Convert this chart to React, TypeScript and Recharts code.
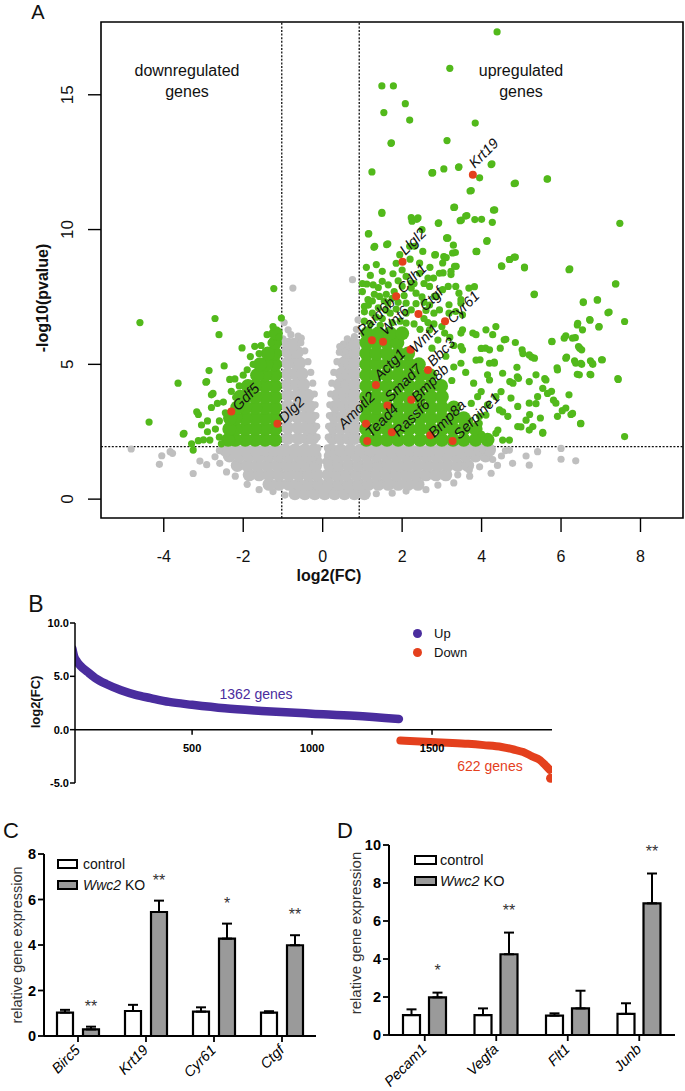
import React from "react";
import {
  ScatterChart,
  Scatter,
  XAxis,
  YAxis,
  ReferenceLine,
  ReferenceArea,
  ComposedChart,
  Line,
  BarChart,
  Bar,
  ErrorBar,
  LabelList,
} from "recharts";

const FONT = "'Liberation Sans', Arial, Helvetica, sans-serif";
const GREEN = "#52b91b";
const GREY = "#bfbfbf";
const RED = "#e4401d";
const PURPLE = "#4a2d9e";

// ---------- A: volcano plot ----------
const fcTicks = [-4, -2, 0, 2, 4, 6, 8];
const pTicks = [0, 5, 10, 15];

// dense non-significant cloud, read row by row (-log10 p, log2 FC list)
const greyDenseRows: [number, number[]][] = [
  [0.2, [-0.7, -0.45, -0.2, 0.05, 0.3, 0.55, 0.8, 1.05]],
  [0.55, [-1.35, -1.1, -0.85, -0.6, -0.35, -0.1, 0.15, 0.4, 0.65, 0.9, 1.15, 1.4, 1.65, 1.9, 2.15, 2.4]],
  [0.9, [-1.85, -1.6, -1.35, -1.1, -0.85, -0.6, -0.36, -0.14, 0.14, 0.36, 0.6, 0.85, 1.1, 1.35, 1.6, 1.85, 2.1, 2.35, 2.6, 2.85, 3.1]],
  [1.25, [-2.15, -1.9, -1.65, -1.4, -1.15, -0.9, -0.65, -0.4, -0.18, 0.18, 0.4, 0.65, 0.9, 1.15, 1.4, 1.65, 1.9, 2.15, 2.4, 2.65, 2.9, 3.15, 3.4, 3.65]],
  [1.6, [-2.35, -2.1, -1.85, -1.6, -1.35, -1.1, -0.85, -0.6, -0.38, -0.19, 0.19, 0.38, 0.6, 0.85, 1.1, 1.35, 1.6, 1.85, 2.1, 2.35, 2.6, 2.85, 3.1, 3.35, 3.6, 3.85, 4.1]],
  [1.82, [-2.45, -2.2, -1.95, -1.7, -1.45, -1.2, -0.95, -0.7, -0.45, -0.22, 0.22, 0.45, 0.7, 0.95, 1.2, 1.45, 1.7, 1.95, 2.2, 2.45, 2.7, 2.95, 3.2, 3.45, 3.7, 3.95, 4.2]],
  [2.25, [-0.88, -0.62, -0.4, -0.25, 0.25, 0.45, 0.65, 0.8]],
  [2.65, [-0.88, -0.62, -0.42, -0.27, 0.27, 0.47, 0.67, 0.8]],
  [3.05, [-0.88, -0.64, -0.44, -0.3, 0.3, 0.5, 0.68, 0.8]],
  [3.45, [-0.88, -0.64, -0.45, -0.33, 0.33, 0.52, 0.7, 0.8]],
  [3.85, [-0.88, -0.65, -0.46, -0.37, 0.37, 0.55, 0.72, 0.8]],
  [4.25, [-0.88, -0.66, -0.48, 0.42, 0.6, 0.8]],
  [4.65, [-0.88, -0.68, -0.52, 0.47, 0.63, 0.8]],
  [5.05, [-0.88, -0.7, -0.58, 0.53, 0.67, 0.8]],
  [5.45, [-0.88, -0.74, -0.64, 0.6, 0.72, 0.8]],
  [5.75, [-0.86, -0.72, 0.7, 0.8]],
];

const greyPoints: [number, number][] = [
  [-0.12, 1.9], [0.12, 1.9], [-0.14, 2.3], [0.14, 2.3], [-0.15, 2.7], [0.15, 2.7], [-0.17, 3.1], [0.17, 3.1],
  [-0.19, 3.5], [0.18, 3.5], [-0.21, 3.9], [0.2, 3.9], [-0.25, 4.3], [0.23, 4.3], [-0.3, 4.7], [0.28, 4.7],
  [-0.37, 5.1], [0.36, 5.1], [-0.45, 5.5], [0.42, 5.45], [-0.55, 5.8], [0.52, 5.75], [-0.08, 1.4], [0.08, 1.4],
  [-0.75, 7.83], [0.75, 8.14], [-0.87, 6.28], [-0.54, 5.97], [-0.62, 6.05], [0.43, 5.66], [0.8, 6.03],
  [0.89, 6.65], [-0.97, 6.55], [0.62, 5.95], [-0.8, 6.1], [0.85, 6.3], [-1.0, 5.95],
  [-4.82, 1.86], [-4.05, 1.61], [-4.11, 1.29], [-3.84, 1.76], [-3.78, 1.7], [-3.26, 0.95], [-3.09, 1.41],
  [-2.92, 1.28], [-2.71, 1.57], [-2.59, 1.33], [-2.42, 1.01], [-2.6, 1.8], [-2.2, 0.85], [-1.9, 0.55],
  [-1.6, 0.35], [-1.25, 0.28], [-0.95, 0.15], [1.35, 0.2], [1.75, 0.22], [2.1, 0.3], [2.6, 0.35], [2.9, 0.52],
  [3.3, 0.6], [3.7, 0.85], [3.95, 1.2], [4.24, 0.96], [3.69, 1.08], [4.28, 1.47], [4.02, 1.82], [4.4, 1.25],
  [4.5, 1.6], [4.6, 1.8], [4.7, 1.82], [4.78, 1.33], [5.12, 1.6], [5.2, 1.26], [5.41, 1.76], [6.0, 1.88],
  [6.0, 1.48], [6.37, 1.42], [3.4, 0.9],
];

// dense significant blocks
const greenDenseRows: [number, number[]][] = [
  [2.2, [-1.2, -1.45, -1.7, -1.95, -2.2, -2.38, 1.1, 1.35, 1.62, 1.9, 2.17, 2.45, 2.72, 3.0, 3.28, 3.55, 3.85, 4.15]],
  [2.6, [-1.2, -1.45, -1.7, -1.95, -2.2, -2.35, 1.1, 1.35, 1.62, 1.9, 2.17, 2.45, 2.72, 3.0, 3.28, 3.55, 3.85]],
  [3.0, [-1.2, -1.45, -1.7, -1.95, -2.2, -2.33, 1.1, 1.35, 1.62, 1.9, 2.17, 2.45, 2.72, 3.0, 3.28, 3.55]],
  [3.4, [-1.2, -1.45, -1.7, -1.95, -2.15, 1.1, 1.35, 1.62, 1.9, 2.17, 2.45, 2.72, 3.0, 3.3]],
  [3.8, [-1.2, -1.45, -1.7, -1.95, -2.08, 1.1, 1.35, 1.62, 1.9, 2.17, 2.45, 2.72, 3.0]],
  [4.2, [-1.2, -1.45, -1.7, -1.88, 1.1, 1.35, 1.62, 1.9, 2.17, 2.45, 2.72, 2.98]],
  [4.6, [-1.2, -1.45, -1.65, 1.1, 1.35, 1.62, 1.9, 2.17, 2.45, 2.7]],
  [5.0, [-1.2, -1.42, -1.58, 1.1, 1.35, 1.62, 1.9, 2.17, 2.42]],
  [5.4, [-1.2, -1.38, 1.1, 1.35, 1.62, 1.9, 2.15]],
  [5.8, [-1.2, 1.1, 1.35, 1.62, 1.88]],
  [6.15, [-1.18, 1.12, 1.4, 1.7, 2.0]],
];

const greenPoints: [number, number][] = [
  [-1.23, 7.81], [-4.6, 6.55], [-2.71, 6.7], [-2.61, 6.1], [-1.04, 6.72], [-2.03, 5.61], [-2.48, 4.94],
  [-3.64, 4.3], [-4.37, 2.86], [-2.92, 4.36], [-2.86, 4.77], [-1.82, 5.29], [-1.71, 5.67], [-2.21, 4.46],
  [-3.26, 1.82], [-3.49, 2.44], [-3.17, 3.24], [-2.76, 3.92], [-3.13, 2.17], [-2.84, 2.19], [-3.51, 2.41],
  [-3.13, 3.14], [-2.94, 4.34], [-2.8, 3.87], [-2.34, 4.44], [-2.19, 3.78], [-1.1, 6.0], [-1.25, 6.4],
  [-1.4, 6.1], [-1.3, 5.8], [-1.55, 5.7], [-1.6, 5.4], [-1.75, 5.0], [-1.9, 4.8], [-2.0, 4.6], [-2.1, 4.2],
  [-2.3, 4.0], [-2.5, 3.6], [-2.45, 3.2], [-2.6, 2.9], [-2.7, 2.6], [-2.9, 2.5], [-3.0, 2.2], [-3.05, 2.75],
  [-2.8, 3.4], [-2.6, 2.3], [-2.55, 2.05], [-3.3, 2.05], [-2.9, 2.9], [-2.65, 3.55],
  [4.39, 17.33], [3.2, 15.98], [1.49, 15.33], [1.78, 15.33], [2.08, 14.67], [1.54, 14.34], [2.19, 14.06],
  [3.84, 13.95], [3.13, 13.3], [1.72, 13.2], [4.24, 12.41], [3.42, 12.31], [3.05, 12.25], [2.75, 12.1],
  [1.24, 12.14], [3.95, 11.92], [5.65, 11.87], [4.82, 11.7], [3.71, 11.43], [3.3, 10.82], [4.3, 10.72],
  [1.49, 10.6], [3.6, 10.5], [3.83, 10.37], [4.0, 10.38], [3.46, 10.33], [4.27, 10.27], [2.23, 10.44],
  [2.37, 10.38], [2.91, 10.23], [2.5, 10.0], [7.48, 10.23], [1.15, 9.84], [3.13, 9.68], [4.13, 9.56],
  [3.29, 9.42], [1.61, 9.44], [1.29, 9.34], [2.19, 9.38], [2.52, 9.19], [2.82, 9.06], [3.05, 9.0],
  [3.34, 9.15], [3.87, 9.18], [4.71, 8.89], [4.82, 8.98], [4.5, 8.65], [5.08, 8.58], [6.2, 8.51],
  [7.37, 7.98], [5.32, 7.59], [3.82, 7.88], [6.91, 7.39], [6.56, 7.32], [7.18, 6.91], [7.6, 6.59],
  [6.72, 6.66], [6.95, 6.39], [6.41, 6.46], [6.12, 6.06], [6.36, 5.99], [5.77, 5.84], [6.47, 5.6],
  [6.14, 5.27], [6.34, 5.13], [6.74, 5.13], [7.02, 5.17], [6.52, 5.0], [6.8, 5.0], [6.73, 4.63],
  [6.41, 4.63], [5.9, 4.87], [7.43, 4.47], [7.6, 2.32], [6.49, 2.8], [5.54, 2.48], [4.9, 4.54],
  [5.26, 5.27], [4.61, 5.93], [5.04, 5.4], [5.59, 4.47], [5.76, 4.0], [6.03, 3.28], [6.25, 3.14],
  [5.48, 3.01], [5.21, 3.14], [4.99, 2.68], [5.37, 3.54], [5.81, 3.67],
  [4.36, 6.4], [4.28, 6.1], [4.57, 5.91], [4.85, 5.81], [4.47, 5.6], [4.1, 5.6], [4.2, 5.54], [5.02, 5.54],
  [5.2, 5.35], [5.33, 5.23], [5.77, 5.85], [3.96, 5.17], [4.2, 5.04], [4.32, 5.08], [4.89, 4.89],
  [4.15, 4.61], [4.71, 4.36], [4.93, 4.48], [5.2, 4.36], [5.37, 4.61], [5.62, 4.42], [5.91, 4.79],
  [6.12, 5.23], [6.37, 5.04], [6.5, 5.04], [6.79, 5.04], [7.04, 5.17], [6.08, 5.97], [6.29, 5.97],
  [6.44, 5.66], [6.52, 5.54], [6.75, 4.61], [6.46, 4.61], [7.44, 4.44], [7.38, 7.99], [7.21, 6.94],
  [6.92, 7.39], [6.56, 7.29], [6.73, 6.64], [6.42, 6.52], [6.54, 6.28], [6.96, 6.4], [6.22, 8.54],
  [5.33, 7.61], [5.08, 8.61], [4.51, 8.64], [4.7, 8.89], [4.85, 8.98], [5.66, 11.88], [4.85, 11.72],
  [4.26, 12.44], [3.43, 12.33], [2.77, 12.11], [3.74, 11.45], [3.32, 10.83], [4.33, 10.73], [3.63, 10.52],
  [3.49, 10.35], [2.92, 10.25], [3.15, 9.69], [4.14, 9.59], [3.88, 9.19], [3.27, 9.13], [3.06, 8.98],
  [2.84, 9.07], [3.36, 8.64], [3.03, 8.39], [3.23, 8.33], [2.79, 8.2], [3.68, 7.83], [3.43, 7.64],
  [3.16, 7.89], [2.86, 7.52], [3.18, 7.21], [3.48, 7.27], [3.18, 6.9], [3.48, 6.16], [3.78, 6.16],
  [3.52, 5.54], [4.49, 3.99], [4.79, 4.3], [5.2, 3.56], [5.41, 3.8], [5.54, 4.11], [5.66, 3.92],
  [5.87, 3.56], [5.91, 3.07], [6.12, 3.38], [6.29, 3.18], [6.5, 2.81], [6.2, 3.87], [5.54, 2.44],
  [5.29, 2.69], [4.91, 2.69], [4.66, 3.07], [4.91, 3.44], [5.12, 2.93], [4.45, 3.31], [4.36, 2.44],
  [4.2, 2.19], [4.7, 2.19], [5.2, 2.56], [4.15, 3.5], [4.74, 3.75], [3.95, 3.07],
  [1.73, 13.22], [2.76, 12.11], [1.49, 10.64], [2.25, 10.31], [2.4, 10.43], [1.16, 9.85], [1.64, 9.47],
  [1.31, 9.38], [2.31, 9.38], [3.12, 9.69], [3.86, 9.19], [1.94, 9.07], [2.44, 8.76], [3.11, 8.96],
  [3.02, 8.76], [1.11, 7.98], [1.27, 7.95], [1.5, 8.08], [1.77, 8.36], [2.1, 8.26], [2.44, 8.38],
  [2.65, 8.2], [2.94, 8.38], [3.23, 8.45], [3.32, 8.64], [2.23, 8.02], [1.05, 7.15], [1.14, 7.4],
  [1.43, 7.52], [1.64, 7.27], [2.23, 7.83], [2.35, 7.64], [2.69, 7.89], [2.81, 7.52], [3.02, 7.77],
  [3.35, 7.89], [3.48, 7.4], [2.1, 7.27], [2.23, 7.02], [2.69, 7.2], [2.94, 7.02], [3.35, 6.96],
  [3.52, 6.84], [2.1, 6.53], [2.69, 6.28], [3.07, 6.16], [3.52, 6.28], [3.86, 6.1], [4.11, 6.28],
  [3.48, 5.66], [3.99, 5.59], [3.48, 5.04], [3.86, 5.16], [4.32, 5.04], [4.2, 4.42], [4.53, 4.67],
  [3.99, 3.99], [4.36, 3.8], [4.53, 3.24], [4.11, 3.12], [3.74, 3.55], [3.94, 2.81], [4.41, 2.56],
  [4.53, 2.19], [1.05, 6.6], [1.25, 6.9], [1.5, 6.7], [1.7, 6.9], [1.95, 6.6], [2.1, 6.9], [2.3, 6.5],
  [2.55, 6.7], [2.8, 6.5], [1.15, 7.2], [1.4, 7.1], [1.9, 7.3], [2.6, 7.0], [1.8, 7.7], [2.0, 7.9],
  [1.6, 7.6], [2.5, 7.5], [1.3, 7.6], [2.8, 6.9], [3.0, 6.4], [3.2, 6.0], [3.3, 5.7], [2.9, 5.9],
  [2.75, 5.6], [1.0, 7.7], [1.0, 8.0], [3.1, 5.3], [3.3, 4.9], [3.6, 4.7], [3.8, 4.3], [3.25, 4.4],
  [3.9, 3.8], [4.0, 2.4], [3.7, 2.9],
  [1.2, 6.5], [1.45, 6.45], [1.75, 6.55], [2.45, 6.3], [2.65, 6.55], [1.05, 6.95], [1.35, 6.75],
  [1.6, 7.0], [1.85, 7.05], [2.35, 7.25], [2.55, 7.3], [1.25, 7.35], [1.55, 7.35], [1.75, 7.45],
  [2.05, 7.55], [2.3, 8.0], [1.4, 7.85], [1.65, 7.95], [1.9, 8.1], [2.55, 8.0], [1.2, 8.3], [1.5, 8.45],
  [2.0, 8.5], [2.7, 8.6], [1.35, 8.7], [1.85, 8.75], [2.2, 8.9], [1.1, 8.6],
];

const geneNames = [
  "Krt19", "Llgl2", "Cdh1", "Pard6b", "Wnt6", "Ctgf", "Cyr61", "Wnt1", "Actg1", "Bbc3",
  "Smad7", "Bmp8b", "Amotl2", "Tead4", "Rassf6", "Bmp8a", "Serpine1", "Gdf5", "Dlg2",
];
const geneFc = [3.78, 2.01, 1.85, 1.24, 1.52, 2.41, 3.08, 2.21, 1.34, 2.65, 1.63, 2.23, 1.09, 1.12, 1.74, 2.71, 3.27, -2.3, -1.14];
const genePval = [12.03, 8.81, 7.53, 5.89, 5.84, 6.87, 6.6, 5.54, 4.23, 4.79, 3.47, 3.69, 2.8, 2.16, 2.48, 2.37, 2.16, 3.25, 2.8];

// label nudges in px (start of the rotated text relative to the dot)
const labelNudge: Record<string, [number, number]> = {
  Krt19: [2, -6], Llgl2: [3, -6], Cdh1: [7, -2], Pard6b: [-9, -4], Wnt6: [3, -6], Ctgf: [7, -2],
  Cyr61: [8, 3], Wnt1: [5, 4], Actg1: [4, -4], Bbc3: [5, -3], Smad7: [3, -3], Bmp8b: [6, 3],
  Amotl2: [-22, 6], Tead4: [4, -3], Rassf6: [7, 5], Bmp8a: [4, 3], Serpine1: [7, -1], Gdf5: [7, 0], Dlg2: [7, 0],
};

const rowsToPoints = (rows: [number, number[]][]) => rows.flatMap(([y, xs]) => xs.map((x) => ({ x, y })));
const pairsToPoints = (pairs: [number, number][]) => pairs.map(([x, y]) => ({ x, y }));

const greyDense = rowsToPoints(greyDenseRows);
const greySparse = pairsToPoints(greyPoints);
const greenDense = rowsToPoints(greenDenseRows);
const greenSparse = pairsToPoints(greenPoints);
const highlighted = geneNames.map((name, i) => ({ name, x: geneFc[i], y: genePval[i] }));

const dot = (r: number, fill: string) => (p: any) => <circle cx={p.cx} cy={p.cy} r={r} fill={fill} />;

const GeneDot = (p: any) => {
  const name = p.payload?.name ?? "";
  const [dx, dy] = labelNudge[name] ?? [5, -3];
  const tx = p.cx + dx;
  const ty = p.cy + dy;
  return (
    <g>
      <circle cx={p.cx} cy={p.cy} r={4} fill={RED} />
      <text x={tx} y={ty} fontSize={14.5} fontStyle="italic" fill="#111" fontFamily={FONT} transform={`rotate(-45 ${tx} ${ty})`}>
        {name}
      </text>
    </g>
  );
};

const PLOT_A_BOTTOM = 518;

const VolcanoXTick = (p: any) => (
  <g>
    <line x1={p.x} x2={p.x} y1={PLOT_A_BOTTOM} y2={PLOT_A_BOTTOM + 14} stroke="#000" strokeWidth={1.4} />
    <text x={p.x} y={PLOT_A_BOTTOM + 44} textAnchor="middle" fontSize={16} fill="#111" fontFamily={FONT}>
      {p.payload.value}
    </text>
  </g>
);

const VolcanoYTick = (p: any) => (
  <g>
    <line x1={88} x2={101} y1={p.y} y2={p.y} stroke="#000" strokeWidth={1.4} />
    <text transform={`translate(73 ${p.y}) rotate(-90)`} textAnchor="middle" fontSize={17} fill="#111" fontFamily={FONT}>
      {p.payload.value}
    </text>
  </g>
);

function VolcanoChart() {
  return (
    <ScatterChart width={685} height={590} margin={{ top: 22, right: 2, bottom: 0, left: 0 }}>
      <XAxis
        type="number"
        dataKey="x"
        domain={[-5.58, 9.07]}
        ticks={fcTicks}
        interval={0}
        allowDataOverflow
        height={72}
        axisLine={false}
        tickLine={false}
        tick={(p: any) => <VolcanoXTick {...p} />}
      />
      <YAxis
        type="number"
        dataKey="y"
        domain={[-0.7, 17.7]}
        ticks={pTicks}
        interval={0}
        allowDataOverflow
        width={101}
        axisLine={false}
        tickLine={false}
        tick={(p: any) => <VolcanoYTick {...p} />}
      />
      <Scatter data={greyDense} shape={dot(6.5, GREY)} isAnimationActive={false} />
      <Scatter data={greySparse} shape={dot(3.6, GREY)} isAnimationActive={false} />
      <Scatter data={greenDense} shape={dot(7, GREEN)} isAnimationActive={false} />
      <Scatter data={greenSparse} shape={dot(3.6, GREEN)} isAnimationActive={false} />
      <ReferenceLine x={-1.03} stroke="#111" strokeWidth={1.3} strokeDasharray="2 1.6" />
      <ReferenceLine x={0.92} stroke="#111" strokeWidth={1.3} strokeDasharray="2 1.6" />
      <ReferenceLine y={1.95} stroke="#111" strokeWidth={1.3} strokeDasharray="2 1.6" />
      <Scatter data={highlighted} shape={GeneDot} isAnimationActive={false} />
      <ReferenceArea x1={-5.58} x2={9.07} y1={-0.7} y2={17.7} fill="none" fillOpacity={0} stroke="#000" strokeWidth={1.6} ifOverflow="visible" />
    </ScatterChart>
  );
}

// ---------- B: ranked fold changes ----------
const upRank = [1, 8, 20, 34, 65, 96, 142, 204, 265, 327, 404, 500, 636, 790, 1000, 1176, 1362];
const upFc = [7.6, 6.9, 6.4, 6.0, 5.4, 4.85, 4.28, 3.7, 3.27, 2.96, 2.6, 2.33, 2.0, 1.76, 1.5, 1.3, 1.0];
const downRank = [1368, 1450, 1562, 1650, 1716, 1790, 1840, 1880, 1917, 1950, 1971, 1990];
const downFc = [-1.02, -1.12, -1.23, -1.33, -1.45, -1.62, -1.86, -2.1, -2.5, -2.85, -3.3, -3.75];
const lastRank = [1994];
const lastFc = [-4.55];
const rankTicks = [500, 1000, 1500];
const fcAxisTicks = [-5, 0, 5, 10];

const upData = upRank.map((rank, i) => ({ rank, fc: upFc[i] }));
const downData = downRank.map((rank, i) => ({ rank, fc: downFc[i] }));
const lastData = lastRank.map((rank, i) => ({ rank, fc: lastFc[i] }));

const ZERO_B = 33 + (160 * 10) / 15;

const RankTick = (p: any) => (
  <g>
    <line x1={p.x} x2={p.x} y1={ZERO_B} y2={ZERO_B + 5} stroke="#000" strokeWidth={1.5} />
    <text x={p.x} y={ZERO_B + 22} textAnchor="middle" fontSize={11} fontWeight="bold" fill="#000" fontFamily={FONT}>
      {p.payload.value}
    </text>
  </g>
);

function RankChart() {
  return (
    <ComposedChart width={685} height={220} margin={{ top: 33, right: 133, bottom: 0, left: 0 }}>
      <XAxis
        type="number"
        dataKey="rank"
        domain={[12, 2000]}
        ticks={rankTicks}
        interval={0}
        allowDataOverflow
        height={27}
        axisLine={false}
        tickLine={false}
        tick={(p: any) => <RankTick {...p} />}
      />
      <YAxis
        type="number"
        dataKey="fc"
        domain={[-5, 10]}
        ticks={fcAxisTicks}
        interval={0}
        allowDataOverflow
        width={75}
        tickFormatter={(v: number) => v.toFixed(1)}
        axisLine={{ stroke: "#000", strokeWidth: 1.5 }}
        tickLine={{ stroke: "#000", strokeWidth: 1.5 }}
        tickSize={5}
        tickMargin={1}
        tick={{ fontSize: 11, fontWeight: "bold", fill: "#000", fontFamily: FONT }}
      />
      <ReferenceLine y={0} stroke="#000" strokeWidth={1.5} />
      <Line data={upData} dataKey="fc" type="monotone" stroke={PURPLE} strokeWidth={8.5} strokeLinecap="round" dot={false} isAnimationActive={false} />
      <Line data={downData} dataKey="fc" type="monotone" stroke={RED} strokeWidth={8} strokeLinecap="round" dot={false} isAnimationActive={false} />
      <Scatter data={lastData} dataKey="fc" shape={dot(4.5, RED)} isAnimationActive={false} />
    </ComposedChart>
  );
}

// ---------- C / D: qPCR bars ----------
const cGenes = ["Birc5", "Krt19", "Cyr61", "Ctgf"];
const cControl = [1.03, 1.1, 1.07, 1.03];
const cControlErr = [0.12, 0.27, 0.19, 0.06];
const cKo = [0.29, 5.45, 4.28, 3.99];
const cKoErr = [0.12, 0.5, 0.66, 0.44];
const cStars = ["**", "**", "*", "**"];
const cTicks = [0, 2, 4, 6, 8];

const dGenes = ["Pecam1", "Vegfa", "Flt1", "Junb"];
const dControl = [1.05, 1.05, 1.02, 1.11];
const dControlErr = [0.3, 0.35, 0.12, 0.56];
const dKo = [1.98, 4.25, 1.4, 6.93];
const dKoErr = [0.25, 1.14, 0.93, 1.57];
const dStars = ["*", "**", "", "**"];
const dTicks = [0, 2, 4, 6, 8, 10];

type ExprProps = {
  genes: string[];
  control: number[];
  controlErr: number[];
  ko: number[];
  koErr: number[];
  stars: string[];
  ticks: number[];
  width: number;
  height: number;
  top: number;
  right: number;
  yWidth: number;
  xHeight: number;
  barSize: number;
  barGap: number;
  lift: number;
};

function ExpressionChart(props: ExprProps) {
  const { genes, control, controlErr, ko, koErr, stars, ticks, width, height, top, right, yWidth, xHeight, barSize, barGap, lift } = props;
  const rows = genes.map((gene, i) => ({
    gene,
    control: control[i],
    controlErr: [0, controlErr[i]],
    ko: ko[i],
    koErr: [0, koErr[i]],
  }));
  const bottom = height - xHeight;

  const starContent = (p: any) => {
    const idx = typeof p.index === "number" ? p.index : ko.indexOf(Number(p.value));
    if (idx < 0 || !stars[idx]) return null;
    const h = Math.abs(Number(p.height));
    const perUnit = h / ko[idx];
    const errTop = Number(p.y) - koErr[idx] * perUnit;
    return (
      <text x={Number(p.x) + Number(p.width) / 2} y={errTop - lift} textAnchor="middle" fontSize={16} fill="#333" fontFamily={FONT}>
        {stars[idx]}
      </text>
    );
  };

  const geneTick = (p: any) => {
    const tx = p.x + 3;
    const ty = bottom + 15;
    return (
      <text x={tx} y={ty} textAnchor="end" fontSize={14.5} fontStyle="italic" fill="#000" fontFamily={FONT} transform={`rotate(-45 ${tx} ${ty})`}>
        {p.payload.value}
      </text>
    );
  };

  return (
    <BarChart width={width} height={height} data={rows} margin={{ top, right, bottom: 0, left: 0 }} barGap={barGap}>
      <XAxis
        dataKey="gene"
        height={xHeight}
        interval={0}
        axisLine={{ stroke: "#000", strokeWidth: 2 }}
        tickLine={{ stroke: "#000", strokeWidth: 1.8 }}
        tickSize={6}
        tick={geneTick}
      />
      <YAxis
        type="number"
        domain={[0, ticks[ticks.length - 1]]}
        ticks={ticks}
        interval={0}
        width={yWidth}
        axisLine={{ stroke: "#000", strokeWidth: 2 }}
        tickLine={{ stroke: "#000", strokeWidth: 1.8 }}
        tickSize={6}
        tickMargin={2}
        tick={{ fontSize: 14.5, fontWeight: "bold", fill: "#000", fontFamily: FONT }}
      />
      <Bar dataKey="control" fill="#ffffff" stroke="#000" strokeWidth={2.2} barSize={barSize} isAnimationActive={false}>
        <ErrorBar dataKey="controlErr" direction="y" width={5} stroke="#000" strokeWidth={2} />
      </Bar>
      <Bar dataKey="ko" fill="#9a9a9a" stroke="#000" strokeWidth={2.2} barSize={barSize} isAnimationActive={false}>
        <ErrorBar dataKey="koErr" direction="y" width={5} stroke="#000" strokeWidth={2} />
        <LabelList dataKey="ko" content={starContent} />
      </Bar>
    </BarChart>
  );
}

// ---------- page helpers ----------
type TextProps = { x: number; y: number; size: number; children: React.ReactNode; rotate?: number; weight?: number | string; color?: string; align?: "center" | "left" };

function Txt({ x, y, size, children, rotate, weight = "normal", color = "#111", align = "center" }: TextProps) {
  const shift = align === "center" ? "translate(-50%, -50%)" : "translate(0, -50%)";
  return (
    <div
      style={{
        position: "absolute",
        left: x,
        top: y,
        transform: `${shift}${rotate ? ` rotate(${rotate}deg)` : ""}`,
        fontSize: size,
        fontWeight: weight as any,
        color,
        whiteSpace: "nowrap",
        lineHeight: 1,
        textAlign: "center",
      }}
    >
      {children}
    </div>
  );
}

function Swatch({ x, y, w, h, fill }: { x: number; y: number; w: number; h: number; fill: string }) {
  return (
    <div style={{ position: "absolute", left: x, top: y, width: w, height: h, boxSizing: "border-box", border: "2px solid #000", background: fill }} />
  );
}

function Dot({ x, y, r, fill }: { x: number; y: number; r: number; fill: string }) {
  return <div style={{ position: "absolute", left: x - r, top: y - r, width: 2 * r, height: 2 * r, borderRadius: "50%", background: fill }} />;
}

export default function App() {
  return (
    <div style={{ position: "absolute", left: 0, top: 0, width: 685, height: 1091, background: "#fff", fontFamily: FONT, color: "#000", overflow: "hidden" }}>
      {/* A */}
      <div style={{ position: "absolute", left: 0, top: 0 }}>
        <VolcanoChart />
      </div>
      <Txt x={38} y={12} size={20}>A</Txt>
      <Txt x={187} y={71} size={16}>downregulated</Txt>
      <Txt x={187} y={92} size={16}>genes</Txt>
      <Txt x={521} y={71} size={16}>upregulated</Txt>
      <Txt x={521} y={92} size={16}>genes</Txt>
      <Txt x={329} y={576} size={16} weight="bold">log2(FC)</Txt>
      <Txt x={43} y={298} size={16} weight="bold" rotate={-90}>-log10(pvalue)</Txt>

      {/* B */}
      <div style={{ position: "absolute", left: 0, top: 590 }}>
        <RankChart />
      </div>
      <Txt x={36} y={604} size={23}>B</Txt>
      <Txt x={35} y={702} size={13} weight="bold" rotate={-90}>log2(FC)</Txt>
      <Dot x={417} y={633} r={4.5} fill={PURPLE} />
      <Dot x={417} y={652} r={4.5} fill={RED} />
      <Txt x={434} y={633} size={13} align="left">Up</Txt>
      <Txt x={434} y={652} size={13} align="left">Down</Txt>
      <Txt x={256} y={694} size={14} color={PURPLE}>1362 genes</Txt>
      <Txt x={490} y={766} size={14} color={RED}>622 genes</Txt>

      {/* C */}
      <div style={{ position: "absolute", left: 0, top: 820 }}>
        <ExpressionChart
          genes={cGenes}
          control={cControl}
          controlErr={cControlErr}
          ko={cKo}
          koErr={cKoErr}
          stars={cStars}
          ticks={cTicks}
          width={345}
          height={271}
          top={34}
          right={29}
          yWidth={44}
          xHeight={55}
          barSize={16}
          barGap={10}
          lift={15}
        />
      </div>
      <Txt x={11} y={831} size={22}>C</Txt>
      <Txt x={17} y={945} size={14.5} color="#333" rotate={-90}>relative gene expression</Txt>
      <Swatch x={57} y={859} w={21} h={10} fill="#fff" />
      <Swatch x={57} y={880} w={21} h={10} fill="#9a9a9a" />
      <Txt x={83} y={864} size={14} align="left">control</Txt>
      <Txt x={83} y={885} size={14} align="left">
        <i>Wwc2</i> KO
      </Txt>

      {/* D: svg starts further left so the rotated first label is not clipped */}
      <div style={{ position: "absolute", left: 300, top: 820 }}>
        <ExpressionChart
          genes={dGenes}
          control={dControl}
          controlErr={dControlErr}
          ko={dKo}
          koErr={dKoErr}
          stars={dStars}
          ticks={dTicks}
          width={385}
          height={271}
          top={25}
          right={10}
          yWidth={89}
          xHeight={56}
          barSize={17}
          barGap={9}
          lift={17}
        />
      </div>
      <Txt x={345} y={831} size={22}>D</Txt>
      <Txt x={355} y={933} size={15} color="#333" rotate={-90}>relative gene expression</Txt>
      <Swatch x={414} y={855} w={23} h={10} fill="#fff" />
      <Swatch x={414} y={876} w={23} h={10} fill="#9a9a9a" />
      <Txt x={440} y={860} size={14.5} align="left">control</Txt>
      <Txt x={440} y={881} size={14.5} align="left">
        <i>Wwc2</i> KO
      </Txt>
    </div>
  );
}
